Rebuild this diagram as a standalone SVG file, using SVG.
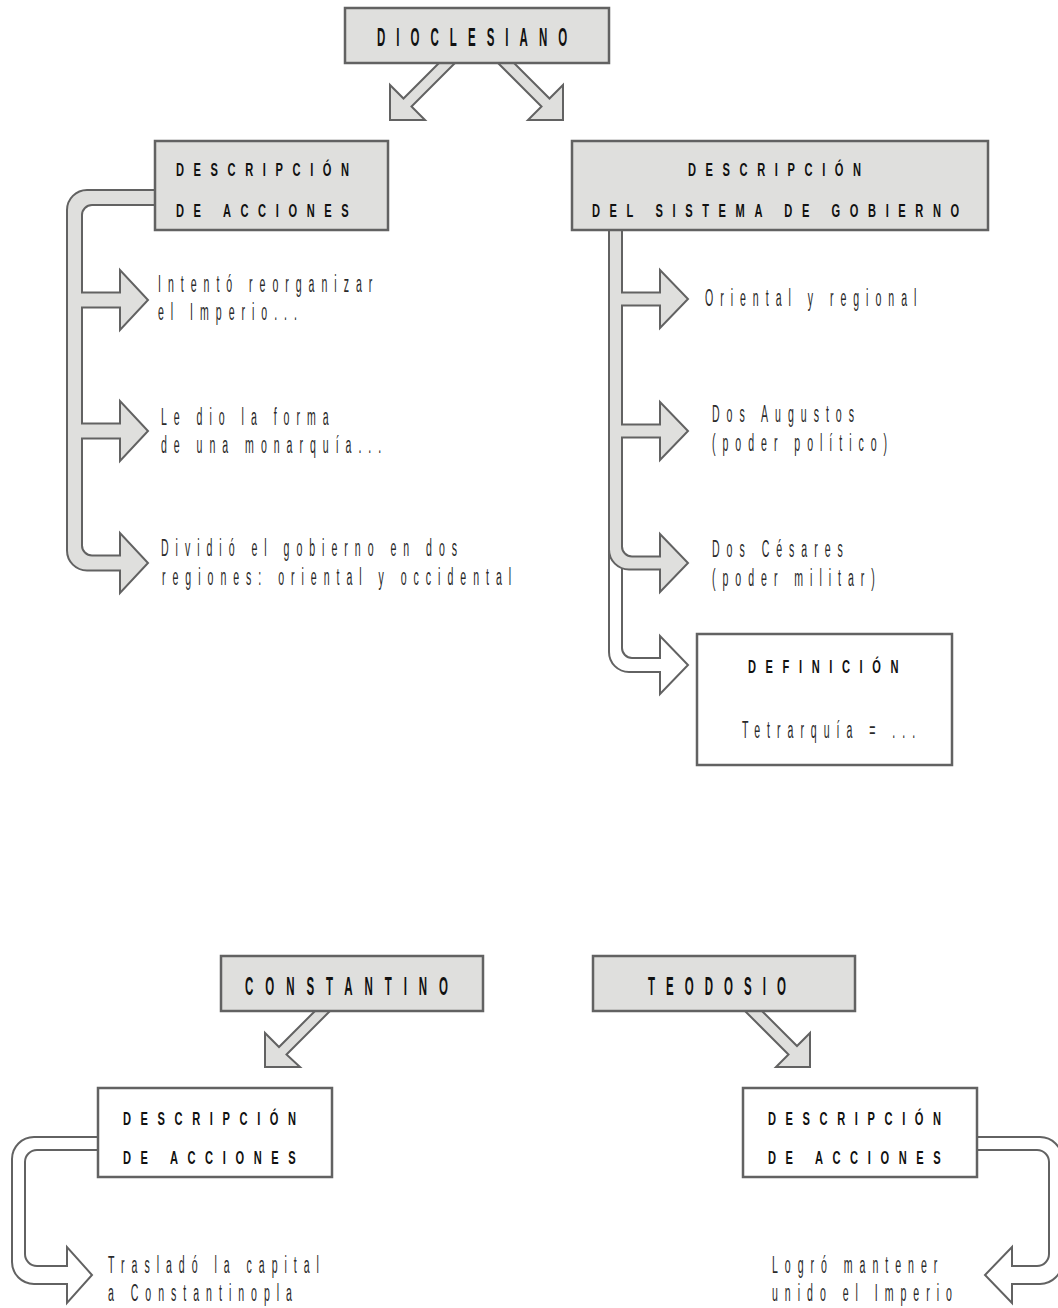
<svg xmlns="http://www.w3.org/2000/svg" width="1058" height="1308" viewBox="0 0 1058 1308">
<style>
  .box{fill:#dfdfdd;stroke:#626262;stroke-width:2.5}
  .box-w{fill:#fff;stroke:#626262;stroke-width:2.5}
  .arrow{fill:#dfdfdd;stroke:#626262;stroke-width:2}
  .arrow-w{fill:#fff;stroke:#626262;stroke-width:2}
  text{font-family:"Liberation Sans",Arial,sans-serif}
  .title{font-size:25px;font-weight:bold;fill:#111;letter-spacing:24px}
  .head{font-size:18.5px;font-weight:bold;fill:#111;letter-spacing:16px}
  .body{font-size:23.5px;fill:#2a2a2a;letter-spacing:15.5px}
</style>
<rect width="1058" height="1308" fill="#fff"/>

<g id="connectors">
  <!-- Dioclesiano: two block arrows -->
  <polygon class="arrow" points="439,63 403.5,98.5 390,85 390,120 425,120 411.5,106.5 455,63"/>
  <polygon class="arrow" points="498,63 541.5,106.5 528,120 563,120 563,85 549.5,98.5 514,63"/>
  <!-- left bracket: acciones -->
  <path class="arrow" d="M155,190 H87 A20,20 0 0 0 67,210 V550.5 A20,20 0 0 0 87,570.5 H120 V593 L148,563 L120,533 V555.5 H92 A10,10 0 0 1 82,545.5 V438.5 H120 V461 L148,431 L120,401 V423.5 H82 V307.5 H120 V330 L148,300 L120,270 V292.5 H82 V215 A10,10 0 0 1 92,205 H155 Z"/>
  <!-- right bracket: definicion (white, under the grey one) -->
  <path class="arrow-w" d="M609,520 V652 A20,20 0 0 0 629,672 H660 V694 L688,665 L660,636 V658 H632 A10,10 0 0 1 622,648 V520 Z"/>
  <!-- right bracket: sistema de gobierno -->
  <path class="arrow" d="M609,230 V549.5 A20,20 0 0 0 629,569.5 H660 V592 L688,563 L660,534 V556.5 H632 A10,10 0 0 1 622,546.5 V437.5 H660 V460 L688,431 L660,402 V424.5 H622 V305.5 H660 V328 L688,299 L660,270 V292.5 H622 V230 Z"/>
  <!-- Constantino / Teodosio arrows -->
  <polygon class="arrow" points="315,1011 279,1047 265,1033 265,1067 300,1067 286.5,1054.5 330,1011"/>
  <polygon class="arrow" points="745,1011 788.5,1054.5 776,1067 810,1067 810,1033 797,1046 762,1011"/>
  <!-- bottom brackets -->
  <path class="arrow-w" d="M98,1137 H34 A22,22 0 0 0 12,1159 V1262 A22,22 0 0 0 34,1284 H67 V1303 L92,1275 L67,1247 V1266 H37 A12,12 0 0 1 25,1254 V1162 A12,12 0 0 1 37,1150 H98 Z"/>
  <path class="arrow-w" d="M977,1137 H1040 A22,22 0 0 1 1062,1159 V1262 A22,22 0 0 1 1040,1284 H1012 V1303 L985,1275 L1012,1247 V1266 H1037 A12,12 0 0 0 1049,1254 V1162 A12,12 0 0 0 1037,1150 H977 Z"/>
</g>

<!-- condensed lettering: each text is squeezed horizontally about its own x -->
<g id="dioclesiano">
  <rect class="box" x="345" y="8" width="264" height="55"/>
  <text class="title" x="377" y="46" transform="matrix(0.46 0 0 1 203.58 0)">DIOCLESIANO</text>
</g>

<g id="descripcion-acciones-1">
  <rect class="box" x="155" y="141" width="233" height="89"/>
  <text class="head" x="176" y="176" transform="matrix(0.6 0 0 1 70.4 0)">DESCRIPCIÓN</text>
  <text class="head" x="176" y="217" transform="matrix(0.6 0 0 1 70.4 0)">DE ACCIONES</text>
</g>

<g id="descripcion-sistema">
  <rect class="box" x="572" y="141" width="416" height="89"/>
  <text class="head" x="688" y="176" transform="matrix(0.6 0 0 1 275.2 0)">DESCRIPCIÓN</text>
  <text class="head" x="592" y="217" transform="matrix(0.6 0 0 1 236.8 0)">DEL SISTEMA DE GOBIERNO</text>
</g>

<g id="accion-reorganizar">
  <text class="body" x="158" y="292" transform="matrix(0.45 0 0 1 86.9 0)">Intentó reorganizar</text>
  <text class="body" x="158" y="320" transform="matrix(0.45 0 0 1 86.9 0)">el Imperio...</text>
</g>
<g id="accion-monarquia">
  <text class="body" x="161" y="425" transform="matrix(0.45 0 0 1 88.55 0)">Le dio la forma</text>
  <text class="body" x="161" y="453" transform="matrix(0.45 0 0 1 88.55 0)">de una monarquía...</text>
</g>
<g id="accion-division">
  <text class="body" x="161" y="556" transform="matrix(0.45 0 0 1 88.55 0)">Dividió el gobierno en dos</text>
  <text class="body" x="162" y="585" transform="matrix(0.45 0 0 1 89.1 0)">regiones: oriental y occidental</text>
</g>

<g id="sistema-oriental">
  <text class="body" x="705" y="306" transform="matrix(0.45 0 0 1 387.75 0)">Oriental y regional</text>
</g>
<g id="sistema-augustos">
  <text class="body" x="712" y="422" transform="matrix(0.45 0 0 1 391.6 0)">Dos Augustos</text>
  <text class="body" x="712" y="451" transform="matrix(0.45 0 0 1 391.6 0)">(poder político)</text>
</g>
<g id="sistema-cesares">
  <text class="body" x="712" y="557" transform="matrix(0.45 0 0 1 391.6 0)">Dos Césares</text>
  <text class="body" x="712" y="586" transform="matrix(0.45 0 0 1 391.6 0)">(poder militar)</text>
</g>

<g id="definicion">
  <rect class="box-w" x="697" y="634" width="255" height="131"/>
  <text class="head" x="748" y="673" transform="matrix(0.6 0 0 1 299.2 0)">DEFINICIÓN</text>
  <text class="body" x="742" y="738" transform="matrix(0.45 0 0 1 408.1 0)">Tetrarquía = ...</text>
</g>

<g id="constantino">
  <rect class="box" x="221" y="956" width="262" height="55"/>
  <text class="title" x="245" y="995" style="letter-spacing:26px" transform="matrix(0.46 0 0 1 132.3 0)">CONSTANTINO</text>
</g>

<g id="teodosio">
  <rect class="box" x="593" y="956" width="262" height="55"/>
  <text class="title" x="648" y="995" transform="matrix(0.46 0 0 1 349.92 0)">TEODOSIO</text>
</g>

<g id="descripcion-acciones-2">
  <rect class="box-w" x="98" y="1088" width="234" height="89"/>
  <text class="head" x="123" y="1125" transform="matrix(0.6 0 0 1 49.2 0)">DESCRIPCIÓN</text>
  <text class="head" x="123" y="1164" transform="matrix(0.6 0 0 1 49.2 0)">DE ACCIONES</text>
</g>

<g id="descripcion-acciones-3">
  <rect class="box-w" x="743" y="1088" width="234" height="89"/>
  <text class="head" x="768" y="1125" transform="matrix(0.6 0 0 1 307.2 0)">DESCRIPCIÓN</text>
  <text class="head" x="768" y="1164" transform="matrix(0.6 0 0 1 307.2 0)">DE ACCIONES</text>
</g>

<g id="accion-capital">
  <text class="body" x="108" y="1273" transform="matrix(0.45 0 0 1 59.4 0)">Trasladó la capital</text>
  <text class="body" x="108" y="1301" transform="matrix(0.45 0 0 1 59.4 0)">a Constantinopla</text>
</g>

<g id="accion-unidad">
  <text class="body" x="772" y="1273" transform="matrix(0.45 0 0 1 424.6 0)">Logró mantener</text>
  <text class="body" x="772" y="1301" transform="matrix(0.45 0 0 1 424.6 0)">unido el Imperio</text>
</g>
</svg>
